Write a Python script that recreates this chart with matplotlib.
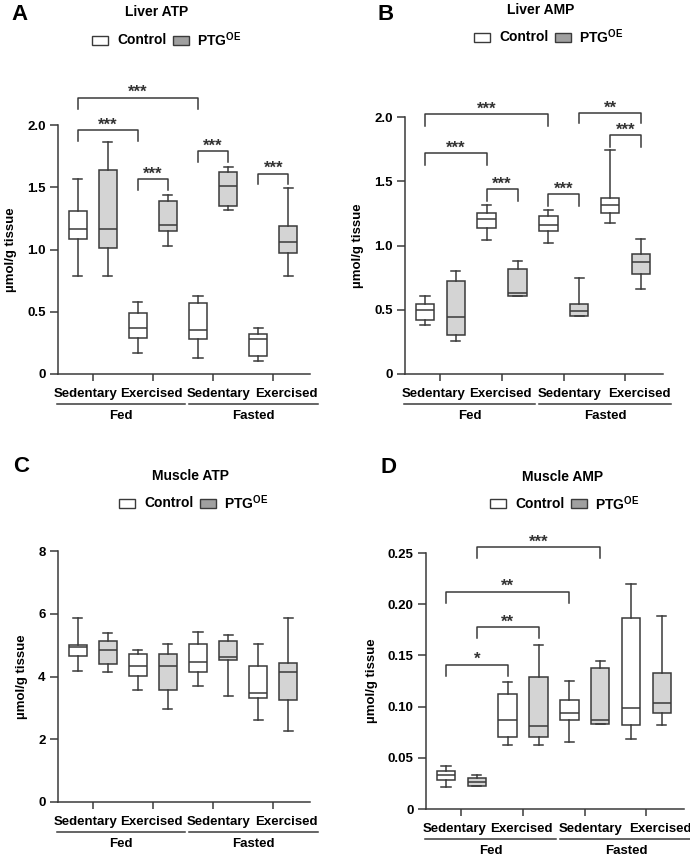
import matplotlib
matplotlib.use('Agg')
import matplotlib.pyplot as plt
from matplotlib.patches import Rectangle
import matplotlib.transforms as mtransforms

plt.rcParams['font.family'] = ['Liberation Sans', 'DejaVu Sans']
plt.rcParams['font.weight'] = 'bold'
plt.rcParams['axes.labelweight'] = 'bold'
plt.rcParams['mathtext.fontset'] = 'custom'
plt.rcParams['mathtext.rm'] = 'Liberation Sans:bold'
plt.rcParams['mathtext.bf'] = 'Liberation Sans:bold'

# box stats per group: [whislo, q1, med, q3, whishi]
# group order: Fed-Sedentary, Fed-Exercised, Fasted-Sedentary, Fasted-Exercised
liver_atp_ctrl = [[0.79, 1.085, 1.165, 1.31, 1.566], [0.17, 0.29, 0.37, 0.49, 0.58],
                  [0.13, 0.28, 0.35, 0.57, 0.63], [0.105, 0.145, 0.28, 0.32, 0.37]]
liver_atp_ptg = [[0.79, 1.01, 1.165, 1.64, 1.86], [1.03, 1.15, 1.2, 1.39, 1.44],
                 [1.32, 1.35, 1.51, 1.62, 1.66], [0.79, 0.97, 1.06, 1.19, 1.49]]
liver_amp_ctrl = [[0.381, 0.418, 0.495, 0.545, 0.607], [1.04, 1.134, 1.21, 1.255, 1.315],
                  [1.02, 1.11, 1.16, 1.227, 1.276], [1.175, 1.25, 1.315, 1.367, 1.74]]
liver_amp_ptg = [[0.257, 0.30, 0.446, 0.72, 0.80], [0.61, 0.61, 0.63, 0.817, 0.88],
                 [0.449, 0.449, 0.488, 0.542, 0.747], [0.66, 0.776, 0.869, 0.934, 1.05]]
muscle_atp_ctrl = [[4.18, 4.65, 4.94, 5.01, 5.86], [3.56, 4.03, 4.35, 4.72, 4.84],
                   [3.70, 4.13, 4.47, 5.02, 5.42], [2.61, 3.30, 3.48, 4.35, 5.04]]
muscle_atp_ptg = [[4.13, 4.39, 4.86, 5.14, 5.40], [2.95, 3.56, 4.32, 4.73, 5.04],
                  [3.39, 4.54, 4.62, 5.14, 5.32], [2.26, 3.24, 4.14, 4.44, 5.86]]
muscle_amp_ctrl = [[0.0212, 0.0288, 0.0333, 0.0375, 0.042], [0.0623, 0.0705, 0.0865, 0.1125, 0.124],
                   [0.0656, 0.0868, 0.094, 0.1067, 0.125], [0.068, 0.0816, 0.0985, 0.187, 0.220]]
muscle_amp_ptg = [[0.0225, 0.0225, 0.0268, 0.030, 0.033], [0.0623, 0.0708, 0.0812, 0.1285, 0.160],
                  [0.0826, 0.0826, 0.0865, 0.138, 0.145], [0.0816, 0.0936, 0.1034, 0.133, 0.188]]

# significance brackets: (box i, box j, top, leg end, label)
liver_atp_sig = [(0, 4, 2.22, 2.13, '***'), (0, 2, 1.96, 1.87, '***'), (2, 3, 1.566, 1.48, '***'),
                 (4, 5, 1.79, 1.70, '***'), (6, 7, 1.61, 1.53, '***')]
liver_amp_sig = [(0, 4, 2.02, 1.93, '***'), (5, 7, 2.03, 1.95, '**'), (6, 7, 1.86, 1.77, '***'),
                 (0, 2, 1.72, 1.63, '***'), (2, 3, 1.437, 1.346, '***'), (4, 5, 1.40, 1.31, '***')]
muscle_atp_sig = []
muscle_amp_sig = [(1, 5, 0.2554, 0.245, '***'), (0, 4, 0.2123, 0.2016, '**'),
                  (1, 3, 0.178, 0.167, '**'), (0, 2, 0.141, 0.13, '*')]

conditions = ['Sedentary', 'Exercised', 'Sedentary', 'Exercised']
states = ['Fed', 'Fasted']
titles = ['Liver ATP', 'Liver AMP', 'Muscle ATP', 'Muscle AMP']
letters = ['A', 'B', 'C', 'D']
yticks_list = [[0, 0.5, 1.0, 1.5, 2.0], [0, 0.5, 1.0, 1.5, 2.0], [0, 2, 4, 6, 8],
               [0, 0.05, 0.10, 0.15, 0.20, 0.25]]
yticklabels_list = [['0', '0.5', '1.0', '1.5', '2.0'], ['0', '0.5', '1.0', '1.5', '2.0'],
                    ['0', '2', '4', '6', '8'], ['0', '0.05', '0.10', '0.15', '0.20', '0.25']]
ylims = [2.0, 2.0, 8, 0.25]

W, H = 690, 864
fig = plt.figure(figsize=(6.9, 8.64), dpi=100)

EDGE = '#3a3a3a'
FILL = '#d4d4d4'
LEGFILL = '#a0a0a0'


def rect(l, r, t, b):
    return [l / W, 1 - b / H, (r - l) / W, (b - t) / H]


# axes extents in pixels (left, right, top, bottom)
ax_px = [(58, 310, 125, 374), (405, 663, 117, 374), (58, 310, 551, 802), (426, 684, 553, 809)]
title_px = [(157, 12), (541, 10), (191, 476), (563, 477)]
letter_px = [(20, 14), (386, 14), (21, 466), (389, 467)]
legend_px = [(92, 40), (474, 37), (119, 503), (490, 504)]

data = [(liver_atp_ctrl, liver_atp_ptg, liver_atp_sig), (liver_amp_ctrl, liver_amp_ptg, liver_amp_sig),
        (muscle_atp_ctrl, muscle_atp_ptg, muscle_atp_sig), (muscle_amp_ctrl, muscle_amp_ptg, muscle_amp_sig)]

for k in range(4):
    ctrl, ptg, sig = data[k]
    ax = fig.add_axes(rect(*ax_px[k]))
    stats = []
    for g in range(4):
        for vals, lab in ((ctrl[g], 'c'), (ptg[g], 'p')):
            stats.append(dict(whislo=vals[0], q1=vals[1], med=vals[2], q3=vals[3],
                              whishi=vals[4], label=lab))
    b = ax.bxp(stats, positions=range(8), widths=0.6, showfliers=False, patch_artist=True,
               boxprops=dict(edgecolor=EDGE, linewidth=1.1),
               whiskerprops=dict(color=EDGE, linewidth=1.1),
               capprops=dict(color=EDGE, linewidth=1.1),
               medianprops=dict(color=EDGE, linewidth=1.1))
    for i, patch in enumerate(b['boxes']):
        patch.set_facecolor('white' if i % 2 == 0 else FILL)

    ax.set_xlim(-0.65, 7.72)
    ax.set_ylim(0, ylims[k])
    for s in ('top', 'right'):
        ax.spines[s].set_visible(False)
    for s in ('left', 'bottom'):
        ax.spines[s].set_color(EDGE)
        ax.spines[s].set_linewidth(1.1)
    ax.set_yticks(yticks_list[k], yticklabels_list[k])
    ax.tick_params(axis='y', length=6, width=1.1, color=EDGE, labelsize=9.5, pad=3)
    ax.set_xticks([0.5, 2.5, 4.5, 6.5], [])
    ax.set_xticks([0.28, 2.45, 4.7, 6.95], conditions, minor=True)
    ax.tick_params(axis='x', which='major', length=5, width=1.1, color=EDGE)
    ax.tick_params(axis='x', which='minor', length=0, labelsize=9.5, pad=10)
    ax.set_ylabel('µmol/g tissue', fontsize=9.5, labelpad=7)

    tr_line = mtransforms.offset_copy(ax.transAxes, fig=fig, y=-30, units='dots')
    tr_text = mtransforms.offset_copy(ax.transAxes, fig=fig, y=-42, units='dots')
    for (x0, x1), name in zip([(-0.005, 0.505), (0.52, 1.03)], states):
        ax.plot([x0, x1], [0, 0], color=EDGE, lw=1.1, transform=tr_line, clip_on=False)
        ax.text((x0 + x1) / 2, 0, name, transform=tr_text, ha='center', va='center', fontsize=9.5)

    for i, j, top, leg, lab in sig:
        ax.plot([i, i, j, j], [leg, top, top, leg], color=EDGE, lw=1.1, clip_on=False)
        ax.annotate(lab, xy=((i + j) / 2, top), xytext=(0, 0.3), textcoords='offset points',
                    ha='center', va='baseline', fontsize=12, color='#333333',
                    annotation_clip=False)

    tx, ty = title_px[k]
    fig.text(tx / W, 1 - ty / H, titles[k], ha='center', va='center', fontsize=10)
    lx, ly = letter_px[k]
    fig.text(lx / W, 1 - ly / H, letters[k], ha='center', va='center', fontsize=16)

    gx, gy = legend_px[k]
    fig.add_artist(Rectangle((gx / W, 1 - (gy + 4.5) / H), 16 / W, 9 / H, transform=fig.transFigure,
                             facecolor='white', edgecolor=EDGE, lw=1.0))
    fig.text((gx + 25) / W, 1 - gy / H, 'Control', ha='left', va='center', fontsize=10)
    fig.add_artist(Rectangle(((gx + 81) / W, 1 - (gy + 4.5) / H), 16 / W, 9 / H,
                             transform=fig.transFigure, facecolor=LEGFILL, edgecolor=EDGE, lw=1.0))
    fig.text((gx + 105) / W, 1 - gy / H, r'PTG$^{\mathrm{OE}}$', ha='left', va='center', fontsize=10)

fig.savefig('out.png', dpi=100)
